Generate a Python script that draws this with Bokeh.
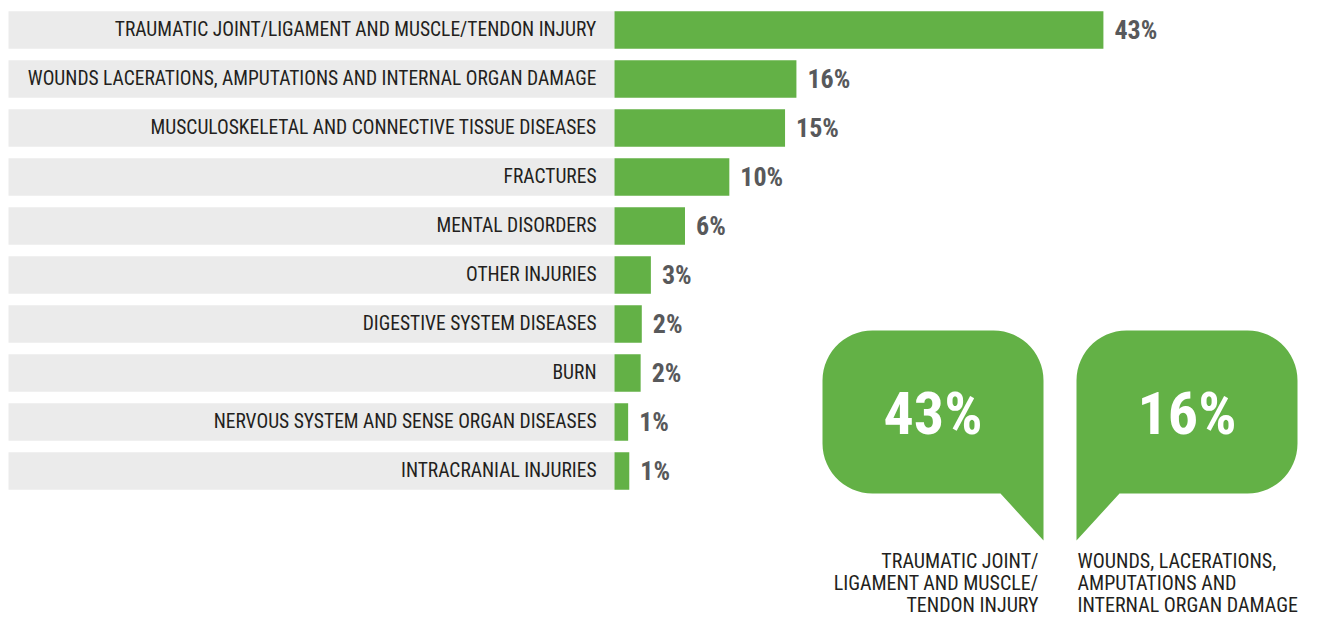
import numpy as np
from bokeh.plotting import figure
from bokeh.models import Range1d
from bokeh.core.properties import value
from bokeh.embed import file_html
from bokeh.resources import INLINE

# ---------------- data ----------------
categories = [
    "TRAUMATIC JOINT/LIGAMENT AND MUSCLE/TENDON INJURY",
    "WOUNDS LACERATIONS, AMPUTATIONS AND INTERNAL ORGAN DAMAGE",
    "MUSCULOSKELETAL AND CONNECTIVE TISSUE DISEASES",
    "FRACTURES",
    "MENTAL DISORDERS",
    "OTHER INJURIES",
    "DIGESTIVE SYSTEM DISEASES",
    "BURN",
    "NERVOUS SYSTEM AND SENSE ORGAN DISEASES",
    "INTRACRANIAL INJURIES",
]
values = [43, 16, 15, 10.1, 6.2, 3.2, 2.4, 2.3, 1.2, 1.3]
value_labels = ["43%", "16%", "15%", "10%", "6%", "3%", "2%", "2%", "1%", "1%"]

callout_values = ["43%", "16%"]
callout_captions = [
    ["TRAUMATIC JOINT/", "LIGAMENT AND MUSCLE/", "TENDON INJURY"],
    ["WOUNDS, LACERATIONS,", "AMPUTATIONS AND", "INTERNAL ORGAN DAMAGE"],
]

# ---------------- style / layout ----------------
GREEN = "#63b146"
GRAY_BG = "#ebebeb"
DARK = "#231f20"
VAL_COLOR = "#58595b"
FONT = value("Roboto Condensed")

W, H = 1308, 618
PX_PER_UNIT = 11.37      # pixels per percent
ZERO_X = 614             # canvas x of 0%
ROW_STEP = 49            # pixels per row
ROW0_Y = 29.5            # canvas y of first row centre
BAR_H = 37.5 / ROW_STEP
PANEL_LEFT_PX = 8
BASE_SHIFT = 0.36        # renderer places alphabetic baseline ~0.36em lower

x_start = -ZERO_X / PX_PER_UNIT
x_end = x_start + W / PX_PER_UNIT
y_top = -ROW0_Y / ROW_STEP
y_bottom = y_top + H / ROW_STEP


def dx(px):  # canvas px -> data x
    return (px - ZERO_X) / PX_PER_UNIT


def dy(py):  # canvas px -> data y
    return (py - ROW0_Y) / ROW_STEP


p = figure(width=W, height=H, output_backend="svg", toolbar_location=None,
           x_range=Range1d(x_start, x_end), y_range=Range1d(y_bottom, y_top),
           x_axis_type=None, y_axis_type=None, min_border=0)
p.grid.visible = False
p.outline_line_color = None
p.background_fill_color = "white"
p.border_fill_color = "white"

rows = list(range(len(categories)))

# label panels
p.hbar(y=rows, left=dx(PANEL_LEFT_PX), right=0, height=BAR_H, color=GRAY_BG, line_color=None)
# data bars
p.hbar(y=rows, left=0, right=values, height=BAR_H, color=GREEN, line_color=None)

# category labels
p.text(x=[0] * len(rows), y=rows, text=categories, text_font=FONT,
       text_font_size="19.5px", text_align="right", text_baseline="alphabetic",
       x_offset=-18, y_offset=7 - BASE_SHIFT * 19.5, text_color=DARK)
# value labels
p.text(x=values, y=rows, text=value_labels, text_font=FONT, text_font_style="bold",
       text_font_size="26px", text_align="left", text_baseline="alphabetic",
       x_offset=11, y_offset=9.5 - BASE_SHIFT * 26, text_color=VAL_COLOR)


# ---------------- speech bubbles ----------------
def arc(cx, cy, r, t0, t1, n=16):
    t = np.linspace(t0, t1, n)
    return list(cx + r * np.cos(t)), list(cy + r * np.sin(t))


def bubble(L, R, T, B, r, tail_side, tail_x, tail_y):
    xs, ys = [], []
    ax, ay = arc(L + r, T + r, r, np.pi, 1.5 * np.pi); xs += ax; ys += ay
    ax, ay = arc(R - r, T + r, r, 1.5 * np.pi, 2 * np.pi); xs += ax; ys += ay
    if tail_side == "right":
        xs += [R, tail_x]; ys += [tail_y, B]
        ax, ay = arc(L + r, B - r, r, 0.5 * np.pi, np.pi); xs += ax; ys += ay
    else:
        ax, ay = arc(R - r, B - r, r, 0, 0.5 * np.pi); xs += ax; ys += ay
        xs += [tail_x, L]; ys += [B, tail_y]
    return [dx(v) for v in xs], [dy(v) for v in ys]


BT, BB, BR = 330, 493, 50
TAIL_Y = 540
BIG_SIZE = 60
CAP_SIZE = 20
bubbles = [
    dict(L=822, R=1043, side="right", tail_x=1000, cap_x=1038, cap_align="right"),
    dict(L=1076, R=1297, side="left", tail_x=1119, cap_x=1077, cap_align="left"),
]
for b, big, cap in zip(bubbles, callout_values, callout_captions):
    bx, by = bubble(b["L"], b["R"], BT, BB, BR, b["side"], b["tail_x"], TAIL_Y)
    p.patch(bx, by, color=GREEN, line_color=None)
    p.text(x=[dx((b["L"] + b["R"]) / 2)], y=[dy(435 - BASE_SHIFT * BIG_SIZE)], text=[big],
           text_font=FONT, text_font_style="bold", text_font_size=f"{BIG_SIZE}px",
           text_align="center", text_baseline="alphabetic", text_color="white")
    cap_y = [dy(568 + 22 * i - BASE_SHIFT * CAP_SIZE) for i in range(len(cap))]
    p.text(x=[dx(b["cap_x"])] * len(cap), y=cap_y, text=cap, text_font=FONT,
           text_font_size=f"{CAP_SIZE}px", text_align=b["cap_align"], text_baseline="alphabetic",
           text_color=DARK)

open("out.html", "w").write(file_html(p, INLINE))
